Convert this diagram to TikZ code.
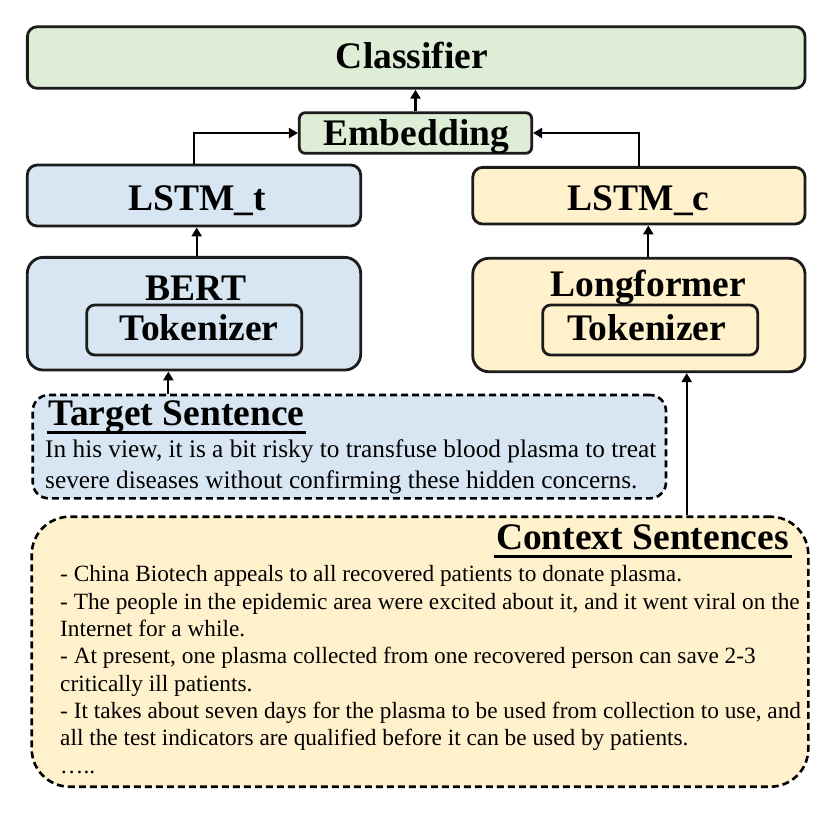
\documentclass[tikz,border=0pt]{standalone}
\usepackage{fontspec}
\setmainfont{Liberation Serif}
\usetikzlibrary{arrows.meta}
\definecolor{cgreen}{RGB}{221,237,214}
\definecolor{cblue}{RGB}{215,230,242}
\definecolor{cyellow}{RGB}{255,241,204}
\definecolor{cline}{RGB}{28,28,28}
\begin{document}
\begin{tikzpicture}[x=1pt,y=-1pt,
  box/.style={draw=cline, line width=2.8pt, rounded corners=10pt, inner sep=0pt},
  dbox/.style={draw=black, line width=2.6pt, dash pattern=on 7pt off 4pt, inner sep=0pt},
  arr/.style={draw=black, line width=2.2pt, -{Triangle[length=9pt,width=10pt]}},
  ttl/.style={font=\fontsize{37.5}{40}\selectfont\bfseries, inner sep=0pt, anchor=base},
  tbody/.style={font=\fontsize{25.3}{30}\selectfont, inner sep=0pt, anchor=base west},
  cbody/.style={font=\fontsize{23.3}{28}\selectfont, inner sep=0pt, anchor=base west},
]
\useasboundingbox[fill=white] (0,0) rectangle (833,812);

% boxes
\node[box, fill=cgreen, minimum width=777.7pt, minimum height=61.6pt] (cls) at (416.2,57.5) {};
\node[box, rounded corners=6pt, fill=cgreen, minimum width=232.4pt, minimum height=40.6pt] (emb) at (415.5,133) {};
\node[box, fill=cblue, minimum width=333.4pt, minimum height=61pt] (lstmt) at (194,195.5) {};
\node[box, fill=cyellow, minimum width=332.3pt, minimum height=56.7pt] (lstmc) at (638.9,195.7) {};
\node[box, rounded corners=16pt, fill=cblue, minimum width=333.4pt, minimum height=112.7pt] (bert) at (194,313.7) {};
\node[box, rounded corners=16pt, fill=cyellow, minimum width=332.3pt, minimum height=113.4pt] (lf) at (638.9,315) {};
\node[box, rounded corners=8pt, fill=cblue, minimum width=215pt, minimum height=50pt] (tokb) at (194.2,330) {};
\node[box, rounded corners=8pt, fill=cyellow, minimum width=215pt, minimum height=50pt] (tokl) at (650.2,330) {};
\node[dbox, rounded corners=16pt, fill=cblue, minimum width=633.3pt, minimum height=103.3pt] (tgt) at (349.35,446.65) {};
\node[dbox, rounded corners=38pt, fill=cyellow, minimum width=776.6pt, minimum height=270pt] (ctx) at (420,651.7) {};

% titles
\node[ttl] (tcls) at (412,68.5) {Classifier};
\node[ttl] (temb) at (416.4,145.5) {Embedding};
\node[ttl] (tlt) at (197,210) {LSTM\_t};
\node[ttl] (tlc) at (638.7,210) {LSTM\_c};
\node[ttl] (tbert) at (196.3,300) {BERT};
\node[ttl] (tlf) at (648.3,296.7) {Longformer};
\node[ttl] (ttb) at (199,340.3) {Tokenizer};
\node[ttl] (ttl2) at (646.7,340.7) {Tokenizer};
\node[ttl, anchor=base west] (ttgt) at (48.3,425.7) {Target Sentence};
\node[ttl, anchor=base east] (tctx) at (789,549.3) {Context Sentences};
\draw[line width=3pt] (47,432.3) -- (306,432.3);
\draw[line width=3pt] (494,556.7) -- (791.7,556.7);

% target body
\node[tbody] (tb1) at (45,457) {In his view, it is a bit risky to transfuse blood plasma to treat};
\node[tbody] (tb2) at (45,488) {severe diseases without confirming these hidden concerns.};

% context body
\node[cbody] (c1) at (60,581.7) {- China Biotech appeals to all recovered patients to donate plasma.};
\node[cbody] (c2) at (60,609.0) {- The people in the epidemic area were excited about it, and it went viral on the};
\node[cbody] (c3) at (60,636.3) {Internet for a while.};
\node[cbody] (c4) at (60,663.6) {- At present, one plasma collected from one recovered person can save 2-3};
\node[cbody] (c5) at (60,691.0) {critically ill patients.};
\node[cbody] (c6) at (60,718.3) {- It takes about seven days for the plasma to be used from collection to use, and};
\node[cbody] (c7) at (60,745.6) {all the test indicators are qualified before it can be used by patients.};
\node[cbody] (c8) at (60,773.0) {…..};

% connectors
\draw[arr] (emb.north) -- (emb.north |- cls.south);
\draw[arr] (lstmt.north) |- (emb.west);
\draw[arr] (lstmc.north) |- (emb.east);
\draw[arr] ([xshift=2.7pt]bert.north) -- ([xshift=2.7pt]bert.north |- lstmt.south);
\draw[arr] ([xshift=9.4pt]lf.north) -- ([xshift=9.4pt]lf.north |- lstmc.south);
\draw[arr] ([xshift=-181pt]tgt.north) -- ([xshift=-181pt]tgt.north |- bert.south);
\coordinate (ax) at ([xshift=47.8pt]lf.south);
\draw[arr] (ctx.north -| ax) -- (ax);
\end{tikzpicture}
\end{document}
